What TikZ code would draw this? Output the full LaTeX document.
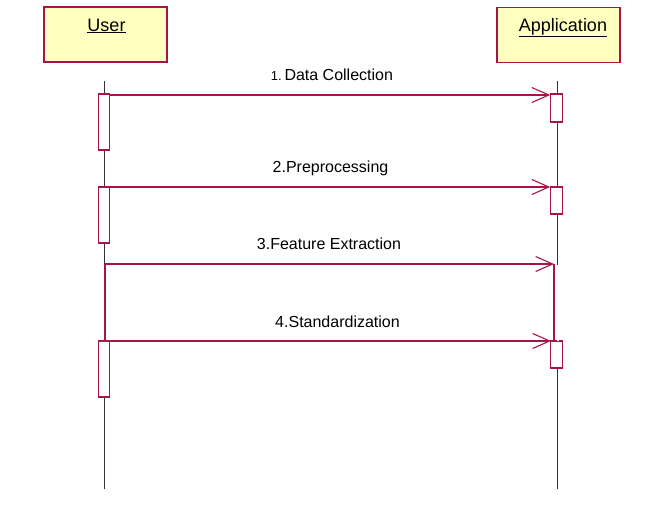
\documentclass[tikz,border=0pt]{standalone}
\usepackage{fontspec}
\setmainfont{Liberation Sans}
\usetikzlibrary{arrows.meta}
\definecolor{umlred}{HTML}{A8144A}
\definecolor{umlfill}{HTML}{FFFFC0}
\definecolor{lifegray}{HTML}{333333}
\tikzset{
  actor/.style={draw=umlred, fill=umlfill, line width=1.3pt, minimum width=123pt, minimum height=55pt, inner sep=0pt},
  actbox/.style={draw=umlred, fill=white, line width=1.1pt, minimum width=11.5pt, inner sep=0pt},
  lifeline/.style={draw=lifegray, line width=1pt},
  msg/.style={draw=umlred, line width=1.1pt, -{Straight Barb[length=17pt,width=15pt,line width=1.1pt]}},
  redline/.style={draw=umlred, line width=1.1pt},
  lbl/.style={font=\fontsize{16}{18}\selectfont, anchor=base, inner sep=0pt},
  ttl/.style={font=\fontsize{18}{20}\selectfont, anchor=base, inner sep=0pt}
}
\begin{document}
\begin{tikzpicture}[x=1pt,y=-1pt]
\useasboundingbox (0,0) rectangle (651,517);
% actors
\node[actor] (user) at (105.5,34.5) {};
\node[actor] (app) at (558.5,35) {};
\node[ttl] (usert) at (106.5,31) {\underline{User}};
\node[ttl] (appt) at (563,31) {\underline{Application}};
% lifeline ends
\coordinate (ul0) at (104.5,81);
\coordinate (ul1) at (104.5,489);
\coordinate (al0) at (557.5,81);
\coordinate (al1) at (557.5,489);
\draw[lifeline] (ul0) -- (ul1);
\draw[lifeline] (al0) -- (al1);
% user activations
\node[actbox, minimum height=56pt] (ua1) at (104,122) {};
\node[actbox, minimum height=56pt] (ua2) at (104,215) {};
\node[actbox, minimum height=56pt] (ua3) at (104,369) {};
% app activations
\node[actbox, minimum height=28pt] (aa1) at (556.5,108) {};
\node[actbox, minimum height=27pt] (aa2) at (556.5,200.5) {};
\node[actbox, minimum height=27pt] (aa3) at (556.5,354.5) {};
% message 3 / 4 red activation lines
\coordinate (u3) at (105,264);
\coordinate (a3) at (554,264);
\coordinate (u4) at (105,341);
\coordinate (a4) at (551,341);
\coordinate (a4b) at (554,341);
\draw[white, line width=2pt] (u3) -- (u4);
\draw[redline] (u3) -- (u4);
\draw[white, line width=2pt] ([yshift=-1pt]al0|-a3) -- (al0|-a4);
\draw[redline] (a3) -- (a4b);
% messages
\draw[msg] (ua1.east|-0,95) -- (aa1.west|-0,95);
\draw[msg] (ua2.east|-0,187) -- (aa2.west|-0,187);
\draw[msg] (u3) -- (a3);
\draw[msg] (u4) -- (a4);
% labels
\node[lbl] (m1) at (332,80) {{\fontsize{13}{15}\selectfont 1.}\,Data Collection};
\node[lbl] (m2) at (330.5,172) {2.Preprocessing};
\node[lbl] (m3) at (329,249) {3.Feature Extraction};
\node[lbl] (m4) at (337.5,327) {4.Standardization};
\end{tikzpicture}
\end{document}
